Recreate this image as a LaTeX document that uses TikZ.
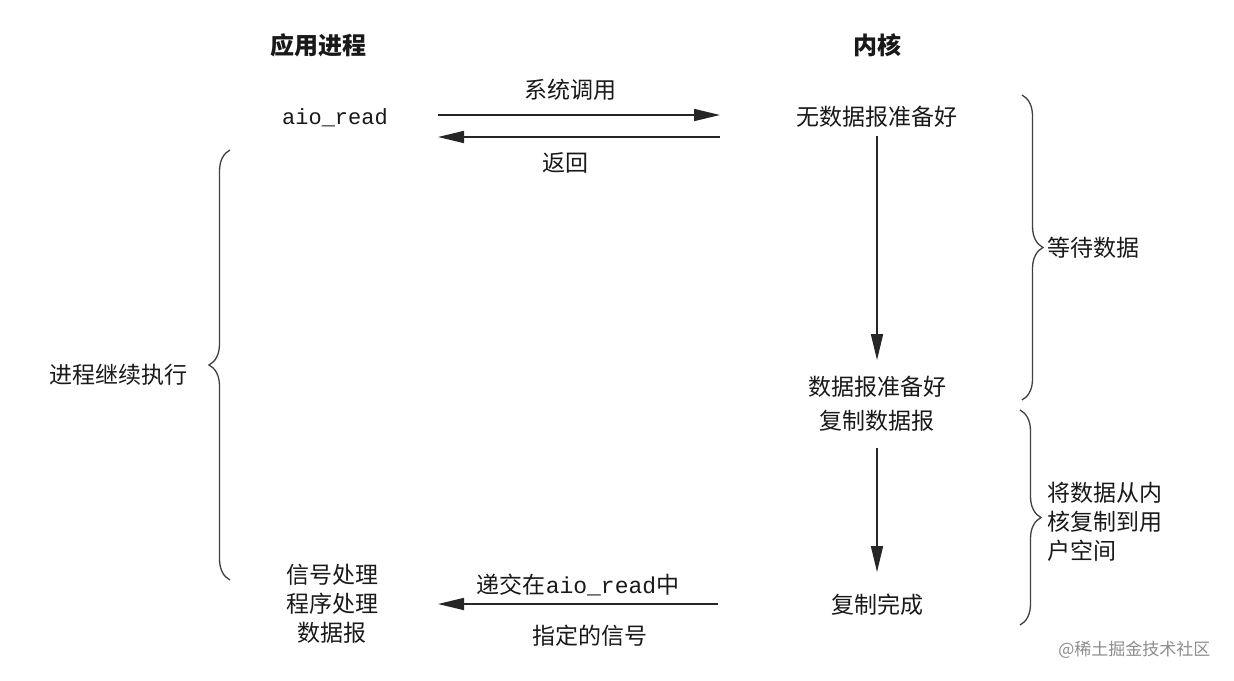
\documentclass[tikz,border=0pt]{standalone}
\usepackage{fontspec}
\setmainfont{Noto Sans CJK SC}
\newfontfamily\monofont{Liberation Mono}
\usetikzlibrary{arrows.meta,decorations.pathreplacing,positioning}

\tikzstyle{txt}=[font=\fontsize{23}{29}\selectfont,
    text=black!90,
    align=center,
    inner sep=0pt]
\tikzstyle{head}=[txt, font=\fontsize{24}{29}\selectfont\bfseries]
\tikzstyle{code}=[txt, font=\monofont\fontsize{22}{26}\selectfont]
\tikzstyle{flow}=[line width=1.7pt,
    draw=black!85,
    -{Triangle[length=26pt,width=12pt]}]
\tikzstyle{curly}=[line width=1.3pt,
    draw=black!75,
    decorate,
    decoration={brace,amplitude=21pt}]

\begin{document}
\begin{tikzpicture}[x=1pt,y=-1pt]
    \useasboundingbox (0,0) rectangle (1234,680);

    % column heads
    \node (app) [head] at (318,45) {应用进程};
    \node (kernel) [head] at (877,45) {内核};

    % application side
    \node (aio) [code] at (335,118) {aio\_read};
    \node (cont) [txt] at (118,375) {进程继续执行};
    \node (handler) [txt] at (332,604) {信号处理\\程序处理\\数据报};

    % kernel side
    \node (nodata) [txt] at (877,117) {无数据报准备好};
    \node (ready) [txt, font=\fontsize{23}{34}\selectfont] at (877,404) {数据报准备好\\复制数据报};
    \node (done) [txt] at (877,605) {复制完成};
    \node (wait) [txt, anchor=west] at (1047,248) {等待数据};
    \node (copy) [txt, anchor=west, align=left] at (1047,522) {将数据从内\\核复制到用\\户空间};

    % arrow labels
    \node (syscall) [txt] at (570,90) {系统调用};
    \node (ret) [txt] at (565,163) {返回};
    \node (deliver) [txt] at (578,585) {递交在{\monofont aio\_read}中};
    \node (signal) [txt] at (590,636) {指定的信号};

    \coordinate (callA) at (438,115);
    \coordinate (callB) at (720,115);
    \coordinate (retA) at (720,137);
    \coordinate (retB) at (438,137);
    \coordinate (sigA) at (718,604);
    \coordinate (sigB) at (438,604);

    \draw [flow] (callA) -- (callB);
    \draw [flow] (retA) -- (retB);
    \draw [flow] (sigA) -- (sigB);
    \draw [flow, shorten <=8pt, shorten >=16pt] (nodata) -- (ready);
    \draw [flow, shorten <=16pt, shorten >=22pt] (ready) -- (done);

    % braces
    \draw [curly] (230,580) -- (230,150);
    \draw [curly] (1022,95) -- (1022,400);
    \draw [curly] (1020,410) -- (1020,625);

    \node (mark) [font=\fontsize{17}{20}\selectfont, text=black!45, anchor=east] at (1214,650) {@稀土掘金技术社区};
\end{tikzpicture}
\end{document}
